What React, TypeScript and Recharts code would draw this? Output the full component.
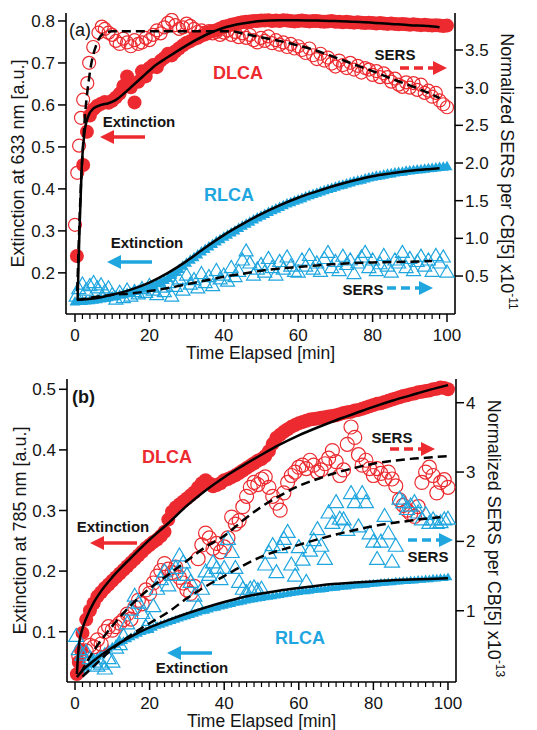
import React from 'react';
import { ComposedChart, Scatter, Line, XAxis, YAxis, Label } from 'recharts';

const FONT = '"Liberation Sans", Arial, Helvetica, sans-serif';
const RED = '#ec2a2f';
const CYAN = '#1fa6df';
const INK = '#141414';

// ---------- shared categories ----------
const MINUTES = [
  0, 1, 2, 3, 4, 5, 6, 7, 8, 9, 10, 11, 12, 13, 14, 15, 16, 17, 18, 19, 20,
  21, 22, 23, 24, 25, 26, 27, 28, 29, 30, 31, 32, 33, 34, 35, 36, 37, 38, 39, 40,
  41, 42, 43, 44, 45, 46, 47, 48, 49, 50, 51, 52, 53, 54, 55, 56, 57, 58, 59, 60,
  61, 62, 63, 64, 65, 66, 67, 68, 69, 70, 71, 72, 73, 74, 75, 76, 77, 78, 79, 80,
  81, 82, 83, 84, 85, 86, 87, 88, 89, 90, 91, 92, 93, 94, 95, 96, 97, 98, 99, 100,
];
const X_TICKS = [0, 2, 4, 6, 8, 10, 12, 14, 16, 18, 20, 22, 24, 26, 28, 30, 32, 34, 36, 38, 40,
  42, 44, 46, 48, 50, 52, 54, 56, 58, 60, 62, 64, 66, 68, 70, 72, 74, 76, 78, 80,
  82, 84, 86, 88, 90, 92, 94, 96, 98, 100];
const A_LEFT_TICKS = [0.2, 0.3, 0.4, 0.5, 0.6, 0.7, 0.8];
const A_RIGHT_TICKS = [0.5, 1.0, 1.5, 2.0, 2.5, 3.0, 3.5];
const B_LEFT_TICKS = [0.1, 0.2, 0.3, 0.4, 0.5];
const B_RIGHT_TICKS = [1, 2, 3, 4];

// ---------- panel (a) ----------
const A_DLCA_EXT_T = [0.5, 2.2, 3.2, ...MINUTES.slice(4)];
const A_DLCA_EXT = [
  0.24, 0.457, 0.536,
  0.575, 0.59, 0.598, 0.603, 0.607, 0.605, 0.61, 0.618, 0.627, 0.645, 0.668, 0.642, 0.606,
  0.655, 0.68, 0.668, 0.688, 0.695, 0.69, 0.705, 0.712, 0.722, 0.718, 0.728, 0.735, 0.742,
  0.748, 0.752, 0.757, 0.76, 0.765, 0.768, 0.773, 0.776, 0.778, 0.782, 0.786, 0.788, 0.791,
  0.793, 0.795, 0.797, 0.798, 0.799, 0.8, 0.8, 0.801,
  0.801, 0.802, 0.8, 0.801, 0.8, 0.802, 0.801, 0.8, 0.799, 0.8, 0.801, 0.8, 0.799, 0.8, 0.8,
  0.799, 0.798, 0.799, 0.8, 0.798,
  0.798, 0.797, 0.798, 0.797, 0.796, 0.797, 0.796, 0.795, 0.796, 0.795, 0.794, 0.795, 0.794,
  0.793, 0.794, 0.793, 0.792, 0.793, 0.792, 0.791, 0.792, 0.791, 0.79, 0.791, 0.79, 0.789,
  0.79, 0.789, 0.788, 0.789,
];
const A_DLCA_EXT_FIT = [
  [0.7, 0.135], [1.2, 0.3], [1.8, 0.45], [2.5, 0.53], [3.5, 0.572], [5, 0.592], [7, 0.6],
  [9, 0.604], [11, 0.612], [13, 0.626], [15, 0.642], [18, 0.666], [21, 0.69], [25, 0.714],
  [30, 0.742], [35, 0.766], [40, 0.784], [45, 0.794], [50, 0.8], [55, 0.802], [60, 0.802],
  [65, 0.801], [70, 0.8], [75, 0.798], [80, 0.796], [85, 0.793], [90, 0.79], [95, 0.788],
  [98, 0.785],
];
const A_DLCA_SERS = [
  [0, 1.18], [0.6, 1.87], [1.1, 2.23], [1.6, 2.6], [2.2, 2.84], [3.3, 3.06], [3.8, 3.33],
  [4.9, 3.54], [6.3, 3.73], [7.2, 3.81], [8, 3.78], [9, 3.73], [10, 3.7], [11, 3.62],
  [12, 3.58], [13, 3.65], [14, 3.6], [15, 3.55], [16, 3.63], [17, 3.58], [18, 3.6], [19, 3.66],
  [20, 3.63], [21, 3.7], [22, 3.76], [23, 3.72], [24, 3.8], [25, 3.86], [26, 3.9], [27, 3.83],
  [28, 3.78], [29, 3.8], [30, 3.85], [31, 3.82], [32, 3.78], [33, 3.74], [34, 3.76], [35, 3.73],
  [36, 3.75], [37, 3.72], [38, 3.74], [39, 3.7], [40, 3.73], [41, 3.76], [42, 3.7], [43, 3.74],
  [44, 3.67], [45, 3.72], [46, 3.66], [47, 3.7], [48, 3.63], [49, 3.6], [50, 3.66], [51, 3.62],
  [52, 3.68], [53, 3.59], [54, 3.63], [55, 3.57], [56, 3.6], [57, 3.54], [58, 3.58], [59, 3.52],
  [60, 3.55], [61, 3.5], [62, 3.46], [63, 3.52], [64, 3.43], [65, 3.38], [66, 3.45], [67, 3.36],
  [68, 3.4], [69, 3.32], [70, 3.28], [71, 3.36], [72, 3.3], [73, 3.26], [74, 3.33], [75, 3.24],
  [76, 3.29], [77, 3.2], [78, 3.26], [79, 3.24], [80, 3.17], [81, 3.22], [82, 3.14], [83, 3.19],
  [84, 3.14], [85, 3.08], [86, 3.12], [87, 3.04], [88, 3.01], [89, 3.07], [90, 3.0], [91, 3.06],
  [92, 2.97], [93, 3.04], [94, 2.93], [95, 2.96], [96, 2.88], [97, 2.93], [98, 2.83], [99, 2.78],
  [100, 2.74],
];
const A_DLCA_SERS_FIT = [
  [0.6, 0.3], [1.5, 1.6], [2.5, 2.5], [4, 3.2], [6, 3.6], [8, 3.73], [10, 3.75], [20, 3.75],
  [30, 3.75], [42, 3.75], [45, 3.72], [50, 3.67], [55, 3.62], [60, 3.56], [65, 3.49], [70, 3.4],
  [75, 3.31], [80, 3.22], [85, 3.12], [90, 3.03], [95, 2.93], [98, 2.86],
];
const A_RLCA_EXT = [
  0.130, 0.131, 0.131, 0.132, 0.133, 0.134, 0.135, 0.137, 0.138, 0.140, 0.142, 0.144, 0.146,
  0.148, 0.150, 0.152, 0.155, 0.157, 0.160, 0.162, 0.165, 0.169, 0.173, 0.177, 0.181, 0.186,
  0.193, 0.200, 0.207, 0.215, 0.222, 0.229, 0.235, 0.242, 0.249, 0.255, 0.261, 0.267, 0.273,
  0.278, 0.284, 0.289, 0.294, 0.299, 0.305, 0.310, 0.315, 0.320, 0.325, 0.330, 0.334, 0.338,
  0.343, 0.347, 0.351, 0.355, 0.359, 0.363, 0.366, 0.370, 0.373, 0.376, 0.380, 0.383, 0.386,
  0.389, 0.392, 0.395, 0.398, 0.400, 0.403, 0.406, 0.408, 0.411, 0.413, 0.416, 0.418, 0.420,
  0.423, 0.425, 0.427, 0.429, 0.430, 0.432, 0.434, 0.435, 0.437, 0.438, 0.439, 0.441, 0.442,
  0.443, 0.444, 0.445, 0.446, 0.447, 0.448, 0.449, 0.450, 0.451, 0.452,
];
const A_RLCA_EXT_FIT = [
  [0.5, 0.136], [5, 0.139], [10, 0.148], [15, 0.16], [20, 0.177], [25, 0.2], [30, 0.228],
  [35, 0.26], [40, 0.29], [45, 0.316], [50, 0.34], [55, 0.361], [60, 0.379], [65, 0.394],
  [70, 0.408], [75, 0.42], [80, 0.43], [85, 0.437], [90, 0.443], [95, 0.447], [98, 0.449],
];
const A_RLCA_SERS = [
  [0.3, 0.22], [1, 0.32], [2, 0.38], [3, 0.3], [4, 0.36], [5, 0.4], [6, 0.33], [7, 0.37],
  [8, 0.28], [9, 0.33], [10, 0.24], [11, 0.18], [12, 0.27], [13, 0.2], [14, 0.3], [15, 0.22],
  [16, 0.28], [17, 0.25], [18, 0.32], [19, 0.27], [20, 0.36], [21, 0.3], [22, 0.24], [23, 0.34],
  [24, 0.28], [25, 0.4], [26, 0.22], [27, 0.35], [28, 0.45], [29, 0.3], [30, 0.5], [31, 0.38],
  [32, 0.44], [33, 0.33], [34, 0.52], [35, 0.4], [36, 0.48], [37, 0.36], [38, 0.56], [39, 0.45],
  [40, 0.5], [41, 0.42], [42, 0.6], [43, 0.48], [44, 0.55], [45, 0.7], [46, 0.82], [47, 0.66],
  [48, 0.5], [49, 0.58], [50, 0.64], [51, 0.54], [52, 0.72], [53, 0.6], [54, 0.5], [55, 0.68],
  [56, 0.58], [57, 0.74], [58, 0.62], [59, 0.55], [60, 0.54], [61, 0.7], [62, 0.62], [63, 0.76],
  [64, 0.58], [65, 0.66], [66, 0.55], [67, 0.72], [68, 0.8], [69, 0.6], [70, 0.68], [71, 0.56],
  [72, 0.75], [73, 0.64], [74, 0.7], [75, 0.52], [76, 0.66], [77, 0.74], [78, 0.8], [79, 0.6],
  [80, 0.7], [81, 0.56], [82, 0.65], [83, 0.76], [84, 0.62], [85, 0.54], [86, 0.7], [87, 0.66],
  [88, 0.8], [89, 0.6], [90, 0.72], [91, 0.56], [92, 0.68], [93, 0.75], [94, 0.62], [95, 0.7],
  [96, 0.55], [97, 0.76], [98, 0.66], [99, 0.74], [100, 0.54],
];
const A_RLCA_SERS_FIT = [
  [0.6, 0.18], [5, 0.22], [10, 0.25], [15, 0.27], [20, 0.3], [25, 0.34], [30, 0.39], [35, 0.44],
  [40, 0.49], [45, 0.53], [50, 0.57], [55, 0.6], [60, 0.62], [65, 0.64], [70, 0.66], [80, 0.68],
  [90, 0.69], [96, 0.7],
];

// ---------- panel (b) ----------
const B_DLCA_EXT_T = [0.5, 1, 1.6, ...MINUTES.slice(2)];
const B_DLCA_EXT = [
  0.03, 0.05, 0.07,
  0.098, 0.12, 0.135, 0.147, 0.158, 0.165, 0.172, 0.178, 0.184, 0.19, 0.196, 0.202, 0.208,
  0.214, 0.22, 0.226, 0.232, 0.238, 0.243, 0.248, 0.252, 0.258, 0.265, 0.285, 0.298, 0.305,
  0.31, 0.315, 0.32, 0.325, 0.33, 0.338, 0.345, 0.35, 0.345, 0.34, 0.342, 0.345, 0.35, 0.352,
  0.355, 0.358, 0.362, 0.366, 0.37, 0.374, 0.378, 0.382, 0.385, 0.39, 0.398, 0.41, 0.42, 0.425,
  0.43, 0.434, 0.438, 0.441, 0.444, 0.446, 0.448, 0.45, 0.451, 0.452, 0.453, 0.454, 0.455,
  0.456, 0.457, 0.459, 0.461, 0.462, 0.463, 0.465, 0.466, 0.468, 0.47, 0.472, 0.474, 0.476,
  0.477, 0.479, 0.481, 0.483, 0.485, 0.487, 0.489, 0.49, 0.492, 0.493, 0.495, 0.496, 0.497,
  0.498, 0.5, 0.501, 0.503, 0.502, 0.5,
];
const B_DLCA_EXT_FIT = [
  [0.5, 0.03], [1, 0.075], [2, 0.105], [3, 0.122], [5, 0.148], [7, 0.167], [10, 0.19],
  [15, 0.222], [20, 0.252], [25, 0.279], [30, 0.308], [35, 0.333], [40, 0.355], [45, 0.374],
  [50, 0.392], [55, 0.409], [60, 0.424], [65, 0.437], [70, 0.449], [75, 0.46], [80, 0.471],
  [85, 0.481], [90, 0.49], [95, 0.499], [100, 0.507],
];
const B_DLCA_SERS = [
  [1, 0.35], [2, 0.29], [3, 0.42], [4, 0.5], [5, 0.48], [6, 0.58], [7, 0.52], [8, 0.7],
  [9, 0.77], [10, 0.72], [11, 0.77], [12, 0.82], [13, 0.87], [14, 0.95], [15, 0.88], [16, 1.05],
  [17, 1.15], [18, 1.1], [19, 1.3], [20, 1.25], [21, 1.4], [22, 1.5], [23, 1.58], [24, 1.68],
  [25, 1.6], [26, 1.55], [27, 1.63], [28, 1.48], [29, 1.4], [30, 1.3], [31, 1.25], [32, 1.35],
  [33, 1.75], [34, 1.95], [35, 2.12], [36, 2.05], [37, 1.9], [38, 1.97], [39, 1.85], [40, 1.92],
  [41, 2.05], [42, 2.35], [43, 2.25], [44, 2.3], [45, 2.5], [46, 2.65], [47, 2.78], [48, 2.85],
  [49, 2.82], [50, 2.9], [51, 2.93], [52, 2.78], [53, 2.65], [54, 2.55], [55, 2.45], [56, 2.7],
  [57, 2.85], [58, 2.95], [59, 3.0], [60, 3.07], [61, 3.1], [62, 3.05], [63, 3.17], [64, 3.1],
  [65, 3.0], [66, 3.03], [67, 3.12], [68, 3.2], [69, 3.31], [70, 3.15], [71, 2.95], [72, 3.03],
  [73, 3.4], [74, 3.65], [75, 3.5], [76, 3.25], [77, 3.1], [78, 3.17], [79, 3.05], [80, 2.95],
  [81, 3.05], [82, 2.98], [83, 2.9], [84, 3.0], [85, 2.9], [86, 2.8], [87, 2.6], [88, 2.52],
  [89, 2.45], [90, 2.4], [91, 2.36], [92, 2.5], [93, 2.85], [94, 3.0], [95, 3.07], [96, 2.95],
  [97, 2.7], [98, 2.85], [99, 2.89], [100, 2.78],
];
const B_DLCA_SERS_FIT = [
  [1.5, 0.1], [5, 0.42], [10, 0.78], [15, 1.08], [20, 1.32], [25, 1.52], [30, 1.72], [35, 1.92],
  [40, 2.08], [45, 2.3], [50, 2.5], [55, 2.66], [60, 2.8], [65, 2.9], [70, 2.99], [75, 3.06],
  [80, 3.12], [85, 3.16], [90, 3.19], [95, 3.21], [100, 3.23],
];
const B_RLCA_EXT_T = [0.5, ...MINUTES.slice(1)];
const B_RLCA_EXT = [
  0.025, 0.028, 0.034, 0.04, 0.046, 0.052, 0.058, 0.063, 0.067, 0.071, 0.075, 0.078, 0.081,
  0.084, 0.087, 0.09, 0.093, 0.096, 0.099, 0.101, 0.104, 0.106, 0.109, 0.111, 0.113, 0.115,
  0.117, 0.119, 0.121, 0.123, 0.125, 0.127, 0.129, 0.131, 0.133, 0.134, 0.136, 0.138, 0.139,
  0.141, 0.142, 0.144, 0.145, 0.147, 0.148, 0.149, 0.151, 0.152, 0.153, 0.154, 0.155, 0.156,
  0.157, 0.158, 0.159, 0.16, 0.161, 0.162, 0.163, 0.164, 0.165, 0.166, 0.166, 0.167, 0.168,
  0.169, 0.169, 0.17, 0.171, 0.172, 0.172, 0.173, 0.174, 0.174, 0.175, 0.176, 0.176, 0.177,
  0.177, 0.178, 0.179, 0.179, 0.18, 0.18, 0.181, 0.181, 0.182, 0.182, 0.183, 0.183, 0.184,
  0.184, 0.185, 0.185, 0.186, 0.186, 0.187, 0.187, 0.188, 0.188, 0.189,
];
const B_RLCA_EXT_FIT = [
  [0.5, 0.025], [2, 0.036], [5, 0.052], [10, 0.074], [15, 0.092], [20, 0.107], [25, 0.119],
  [30, 0.13], [35, 0.14], [40, 0.149], [45, 0.157], [50, 0.163], [55, 0.168], [60, 0.172],
  [65, 0.176], [70, 0.179], [75, 0.181], [80, 0.183], [85, 0.185], [90, 0.186], [95, 0.187],
  [100, 0.188],
];
const B_RLCA_SERS = [
  [0.3, 0.62], [1, 0.43], [2, 0.35], [3, 0.39], [4, 0.3], [5, 0.25], [6, 0.19], [7, 0.22],
  [8, 0.15], [9, 0.3], [10, 0.25], [11, 0.45], [12, 0.5], [13, 0.62], [14, 0.8], [15, 1.0],
  [16, 1.2], [17, 1.1], [18, 0.95], [19, 0.75], [20, 0.85], [21, 1.05], [22, 1.3], [23, 1.44],
  [24, 1.55], [25, 1.35], [26, 1.5], [27, 1.6], [28, 1.78], [29, 1.68], [30, 1.5], [31, 1.4],
  [32, 1.2], [33, 1.05], [34, 1.3], [35, 1.55], [36, 1.5], [37, 1.68], [38, 1.6], [39, 1.44],
  [40, 1.6], [41, 2.02], [42, 1.83], [43, 1.6], [44, 1.4], [45, 1.3], [46, 1.25], [47, 1.3],
  [48, 1.32], [49, 1.28], [50, 1.3], [51, 1.65], [52, 1.82], [53, 1.93], [54, 1.54], [55, 1.9],
  [56, 2.02], [57, 2.12], [58, 1.65], [59, 1.49], [60, 1.9], [61, 1.72], [62, 1.4], [63, 1.85],
  [64, 2.0], [65, 2.16], [66, 1.92], [67, 1.73], [68, 2.4], [69, 2.25], [70, 2.55], [71, 2.31],
  [72, 2.3], [73, 2.15], [74, 2.68], [75, 2.55], [76, 2.2], [77, 2.68], [78, 2.55], [79, 2.1],
  [80, 1.98], [81, 1.73], [82, 1.98], [83, 2.35], [84, 2.1], [85, 1.69], [86, 1.92], [87, 2.6],
  [88, 2.55], [89, 2.45], [90, 2.5], [91, 2.55], [92, 2.4], [93, 2.3], [94, 2.38], [95, 2.25],
  [96, 2.3], [97, 2.25], [98, 2.26], [99, 2.3], [100, 2.31],
];
const B_RLCA_SERS_FIT = [
  [2, 0.05], [5, 0.2], [10, 0.45], [15, 0.65], [20, 0.82], [25, 0.98], [30, 1.18], [35, 1.35],
  [40, 1.5], [45, 1.65], [50, 1.78], [60, 1.95], [70, 2.1], [80, 2.22], [90, 2.3], [98, 2.35],
];

// ---------- helpers ----------
const zipRows = (ts: number[], vs: number[]) => vs.map((v, i) => ({ t: ts[i], v }));
const pairRows = (ps: number[][]) => ps.map(([t, v]) => ({ t, v }));

const triPath = (cx: number, cy: number, s: number) => {
  const h = s * 0.866;
  return `M${cx},${cy - (h * 2) / 3}L${cx + s / 2},${cy + h / 3}L${cx - s / 2},${cy + h / 3}Z`;
};
const filledCircle = (r: number, color: string) => (p: any) =>
  p.cx == null ? <g /> : <circle cx={p.cx} cy={p.cy} r={r} fill={color} />;
const openCircle = (r: number, color: string) => (p: any) =>
  p.cx == null ? <g /> : <circle cx={p.cx} cy={p.cy} r={r} fill="none" stroke={color} strokeWidth={1.2} />;
const filledTri = (s: number, color: string) => (p: any) =>
  p.cx == null ? <g /> : <path d={triPath(p.cx, p.cy, s)} fill={color} />;
const openTri = (s: number, color: string) => (p: any) =>
  p.cx == null ? <g /> : <path d={triPath(p.cx, p.cy, s)} fill="none" stroke={color} strokeWidth={1.2} />;

const XTick = (props: any) => {
  const { x, y, payload } = props;
  const v = payload.value;
  const major = v % 20 === 0;
  return (
    <g>
      <line x1={x} x2={x} y1={y} y2={y + (major ? 8 : 5)} stroke="#000" strokeWidth={major ? 1.5 : 1.2} />
      {major && (
        <text x={x} y={y + 21} dy="0.35em" textAnchor="middle" fontSize={17} fontFamily={FONT} fill={INK}>
          {v}
        </text>
      )}
    </g>
  );
};

const xTitle = (props: any) => {
  const { x, y, width } = props.viewBox;
  return (
    <text x={x + width / 2} y={y + 39} dy="0.35em" textAnchor="middle" fontSize={17.5} fontFamily={FONT} fill={INK}>
      Time Elapsed [min]
    </text>
  );
};
const leftTitle = (text: string, dx: number) => (props: any) => {
  const { x, y, height } = props.viewBox;
  const cx = x + dx;
  const cy = y + height / 2;
  return (
    <text x={cx} y={cy} dy="0.35em" transform={`rotate(-90 ${cx} ${cy})`} textAnchor="middle" fontSize={18} fontFamily={FONT} fill={INK}>
      {text}
    </text>
  );
};
const rightTitle = (exp: string, dx: number) => (props: any) => {
  const { x, y, height } = props.viewBox;
  const cx = x + dx;
  const cy = y + height / 2 + 8;
  return (
    <text x={cx} y={cy} dy="0.35em" transform={`rotate(90 ${cx} ${cy})`} textAnchor="middle" fontSize={18} fontFamily={FONT} fill={INK}>
      Normalized SERS per CB[5] x10
      <tspan fontSize={12} dy="-0.7em">{exp}</tspan>
    </text>
  );
};

const axisLine = { stroke: '#000', strokeWidth: 1.6 };
const tickLine = { stroke: '#000', strokeWidth: 1.5 };
const tickStyle = { fontSize: 17, fill: INK, fontFamily: FONT };

function Arrow({ x1, x2, y, color, dashed, dir }: any) {
  const head = 14;
  const hw = 7;
  const lineStart = dir === 'left' ? x1 + head - 1 : x1;
  const lineEnd = dir === 'left' ? x2 : x2 - head + 1;
  const pts = dir === 'left'
    ? `${x1},${y} ${x1 + head},${y - hw} ${x1 + head},${y + hw}`
    : `${x2},${y} ${x2 - head},${y - hw} ${x2 - head},${y + hw}`;
  return (
    <g>
      <line x1={lineStart} x2={lineEnd} y1={y} y2={y} stroke={color} strokeWidth={3.5} strokeDasharray={dashed ? '9 5' : undefined} />
      <polygon points={pts} fill={color} />
    </g>
  );
}

function Note({ x, y, text, color = INK, size = 15, weight = 'bold' }: any) {
  return (
    <text x={x} y={y} dy="0.35em" textAnchor="middle" fontSize={size} fontWeight={weight} fontFamily={FONT} fill={color}>
      {text}
    </text>
  );
}

const lineProps: any = { dot: false, isAnimationActive: false, stroke: '#000', strokeWidth: 2.5, type: 'monotone', dataKey: 'v', zIndex: 900 };
const scatterZ: any = { zIndex: 500 };
const svgStyle = { overflow: 'visible' as const };

function PanelA() {
  const dom: [number, number] = [-2.42, 102.15];
  return (
    <ComposedChart width={537} height={365} margin={{ top: 13, right: 0, bottom: 11, left: 0 }} style={svgStyle}>
      <XAxis dataKey="t" type="number" domain={dom} allowDataOverflow ticks={X_TICKS} interval={0}
        tick={<XTick />} tickLine={false} tickSize={0} tickMargin={0} axisLine={axisLine} height={40}>
        <Label content={xTitle} />
      </XAxis>
      <XAxis xAxisId="top" orientation="top" dataKey="t" type="number" domain={dom} allowDataOverflow
        tick={false} tickLine={false} axisLine={axisLine} height={0} />
      <YAxis yAxisId="l" type="number" domain={[0.102, 0.819]} allowDataOverflow ticks={A_LEFT_TICKS} interval={0}
        tickFormatter={(v: number) => v.toFixed(1)} width={66} tickSize={8} tickMargin={3}
        tick={tickStyle} tickLine={tickLine} axisLine={axisLine}>
        <Label content={leftTitle('Extinction at 633 nm [a.u.]', 18)} />
      </YAxis>
      <YAxis yAxisId="r" orientation="right" type="number" domain={[-0.004, 3.991]} allowDataOverflow ticks={A_RIGHT_TICKS} interval={0}
        tickFormatter={(v: number) => v.toFixed(1)} width={82} tickSize={8} tickMargin={2}
        tick={tickStyle} tickLine={tickLine} axisLine={axisLine}>
        <Label content={rightTitle('-11', 52)} />
      </YAxis>

      <Scatter {...scatterZ} yAxisId="r" data={pairRows(A_RLCA_SERS)} dataKey="v" shape={openTri(14, CYAN)} isAnimationActive={false} />
      <Scatter {...scatterZ} yAxisId="l" data={zipRows(MINUTES, A_RLCA_EXT)} dataKey="v" shape={filledTri(11, CYAN)} isAnimationActive={false} />
      <Scatter {...scatterZ} yAxisId="l" data={zipRows(A_DLCA_EXT_T, A_DLCA_EXT)} dataKey="v" shape={filledCircle(7, RED)} isAnimationActive={false} />
      <Scatter {...scatterZ} yAxisId="r" data={pairRows(A_DLCA_SERS)} dataKey="v" shape={openCircle(6.5, RED)} isAnimationActive={false} />

      <Line yAxisId="l" data={pairRows(A_RLCA_EXT_FIT)} {...lineProps} />
      <Line yAxisId="l" data={pairRows(A_DLCA_EXT_FIT)} {...lineProps} />
      <Line yAxisId="r" data={pairRows(A_DLCA_SERS_FIT)} {...lineProps} strokeDasharray="9 5" />
      <Line yAxisId="r" data={pairRows(A_RLCA_SERS_FIT)} {...lineProps} strokeDasharray="9 5" />
    </ComposedChart>
  );
}

function PanelB() {
  const dom: [number, number] = [-2.15, 102.15];
  return (
    <ComposedChart width={537} height={370} margin={{ top: 19, right: 0, bottom: 8, left: 0 }} style={svgStyle}>
      <XAxis dataKey="t" type="number" domain={dom} allowDataOverflow ticks={X_TICKS} interval={0}
        tick={<XTick />} tickLine={false} tickSize={0} tickMargin={0} axisLine={axisLine} height={40}>
        <Label content={xTitle} />
      </XAxis>
      <XAxis xAxisId="top" orientation="top" dataKey="t" type="number" domain={dom} allowDataOverflow
        tick={false} tickLine={false} axisLine={axisLine} height={0} />
      <YAxis yAxisId="l" type="number" domain={[0.017, 0.517]} allowDataOverflow ticks={B_LEFT_TICKS} interval={0}
        tickFormatter={(v: number) => v.toFixed(1)} width={67} tickSize={8} tickMargin={3}
        tick={tickStyle} tickLine={tickLine} axisLine={axisLine}>
        <Label content={leftTitle('Extinction at 785 nm [a.u.]', 20)} />
      </YAxis>
      <YAxis yAxisId="r" orientation="right" type="number" domain={[-0.028, 4.342]} allowDataOverflow ticks={B_RIGHT_TICKS} interval={0}
        tickFormatter={(v: number) => String(v)} width={81} tickSize={8} tickMargin={2}
        tick={tickStyle} tickLine={tickLine} axisLine={axisLine}>
        <Label content={rightTitle('-13', 38)} />
      </YAxis>

      <Scatter {...scatterZ} yAxisId="l" data={zipRows(B_RLCA_EXT_T, B_RLCA_EXT)} dataKey="v" shape={filledTri(9, CYAN)} isAnimationActive={false} />
      <Scatter {...scatterZ} yAxisId="l" data={zipRows(B_DLCA_EXT_T, B_DLCA_EXT)} dataKey="v" shape={filledCircle(7, RED)} isAnimationActive={false} />
      <Scatter {...scatterZ} yAxisId="r" data={pairRows(B_DLCA_SERS)} dataKey="v" shape={openCircle(7, RED)} isAnimationActive={false} />
      <Scatter {...scatterZ} yAxisId="r" data={pairRows(B_RLCA_SERS)} dataKey="v" shape={openTri(15, CYAN)} isAnimationActive={false} />

      <Line yAxisId="l" data={pairRows(B_DLCA_EXT_FIT)} {...lineProps} />
      <Line yAxisId="l" data={pairRows(B_RLCA_EXT_FIT)} {...lineProps} />
      <Line yAxisId="r" data={pairRows(B_DLCA_SERS_FIT)} {...lineProps} strokeDasharray="9 5" />
      <Line yAxisId="r" data={pairRows(B_RLCA_SERS_FIT)} {...lineProps} strokeDasharray="9 5" />
    </ComposedChart>
  );
}

export default function App() {
  return (
    <div style={{ position: 'absolute', left: 0, top: 0, width: 537, height: 730, background: '#fff', fontFamily: FONT }}>
      <div style={{ position: 'absolute', left: 0, top: 0 }}>
        <PanelA />
      </div>
      <div style={{ position: 'absolute', left: 0, top: 360 }}>
        <PanelB />
      </div>
      <svg width={537} height={730} style={{ position: 'absolute', left: 0, top: 0, pointerEvents: 'none' }}>
        {/* panel (a) annotations */}
        <text x={69} y={30} dy="0.35em" fontSize={18} fontFamily={FONT} fill={INK}>(a)</text>
        <Note x={238} y={73} text="DLCA" color={RED} size={18} />
        <Note x={395} y={55} text="SERS" />
        <Arrow x1={400} x2={447} y={68} color={RED} dashed dir="right" />
        <Note x={139} y={122} text="Extinction" />
        <Arrow x1={100} x2={145} y={137} color={RED} dir="left" />
        <Note x={229} y={195} text="RLCA" color={CYAN} size={18} />
        <Note x={147} y={243} text="Extinction" />
        <Arrow x1={107} x2={152} y={262} color={CYAN} dir="left" />
        <Note x={363} y={290} text="SERS" />
        <Arrow x1={387} x2={433} y={288} color={CYAN} dashed dir="right" />

        {/* panel (b) annotations */}
        <text x={72} y={397} dy="0.35em" fontSize={18} fontWeight="bold" fontFamily={FONT} fill={INK}>(b)</text>
        <Note x={167} y={457} text="DLCA" color={RED} size={18} />
        <Note x={392} y={438} text="SERS" />
        <Arrow x1={390} x2={435} y={449} color={RED} dashed dir="right" />
        <Note x={113} y={527} text="Extinction" />
        <Arrow x1={90} x2={137} y={543} color={RED} dir="left" />
        <Arrow x1={408} x2={453} y={540} color={CYAN} dashed dir="right" />
        <Note x={428} y={557} text="SERS" />
        <Note x={300} y={638} text="RLCA" color={CYAN} size={18} />
        <Arrow x1={167} x2={212} y={653} color={CYAN} dir="left" />
        <Note x={192} y={668} text="Extinction" />
      </svg>
    </div>
  );
}
